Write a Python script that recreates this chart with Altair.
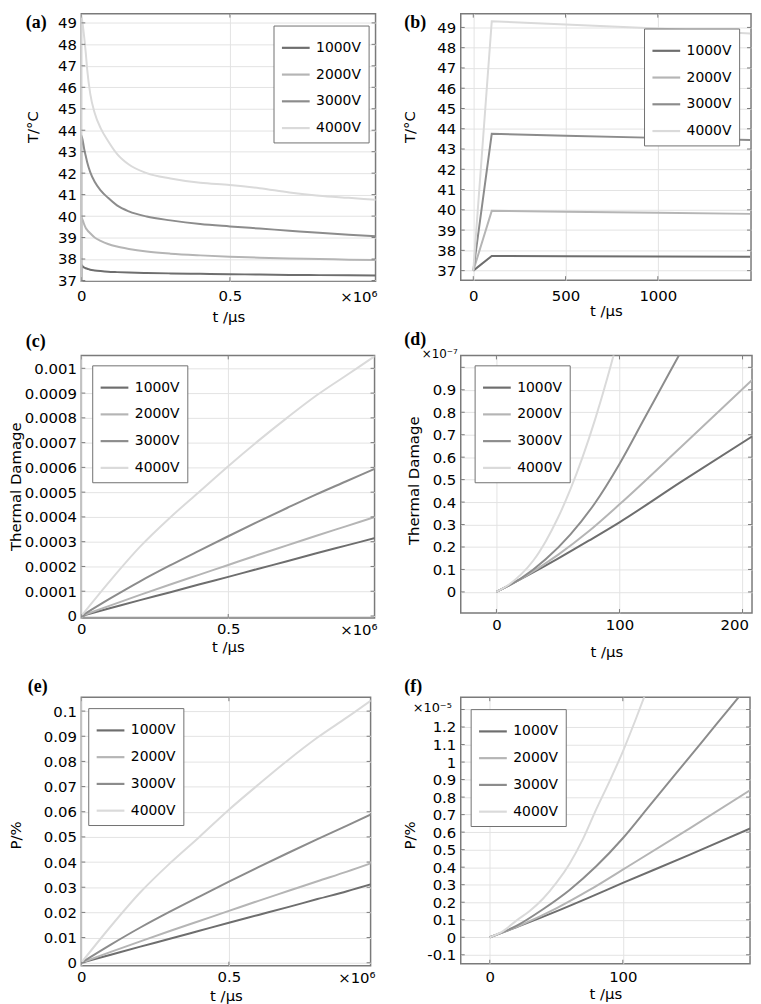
import altair as alt
import pandas as pd

series = ["1000V", "2000V", "3000V", "4000V"]
grays = ["#6e6e6e", "#b5b5b5", "#8c8c8c", "#dadada"]
FRAME = "#7a7a7a"

# ---------------- (a) T vs t (x 10^6 us) ----------------
a_t = [0, 0.0001, 0.005, 0.01, 0.015, 0.02, 0.03, 0.045, 0.065, 0.09, 0.12, 0.16, 0.22, 0.3, 0.4, 0.5, 0.6, 0.7, 0.8, 0.9, 1.0]
a_1000 = [37, 37.72, 37.65, 37.6, 37.57, 37.55, 37.5, 37.47, 37.44, 37.41, 37.39, 37.37, 37.35, 37.33, 37.31, 37.29, 37.28, 37.26, 37.25, 37.24, 37.23]
a_2000 = [37, 39.95, 39.8, 39.6, 39.45, 39.35, 39.2, 39.0, 38.85, 38.7, 38.58, 38.47, 38.35, 38.25, 38.17, 38.11, 38.06, 38.02, 38.0, 37.97, 37.95]
a_3000 = [37, 43.75, 43.5, 43.1, 42.8, 42.5, 42.05, 41.6, 41.2, 40.85, 40.5, 40.22, 39.98, 39.8, 39.63, 39.52, 39.42, 39.32, 39.22, 39.13, 39.05]
a_4000 = [37, 49.3, 48.9, 48.3, 47.6, 46.8, 45.7, 44.8, 44.1, 43.5, 42.9, 42.4, 42.0, 41.75, 41.55, 41.45, 41.3, 41.1, 40.95, 40.85, 40.75]

# ---------------- (b) T vs t (us) ----------------
b_t = [0, 100, 500, 1000, 1500]
b_1000 = [37, 37.72, 37.71, 37.7, 37.68]
b_2000 = [37, 39.95, 39.9, 39.85, 39.8]
b_3000 = [37, 43.75, 43.65, 43.55, 43.45]
b_4000 = [37, 49.3, 49.15, 48.95, 48.7]

# ---------------- (c) Thermal damage vs t (x 10^6 us) ----------------
c_t = [0, 0.1, 0.2, 0.3, 0.4, 0.5, 0.6, 0.7, 0.8, 0.9, 1.0]
c_1000 = [0, 0.000032, 0.000064, 0.000095, 0.000127, 0.000158, 0.00019, 0.000221, 0.000253, 0.000284, 0.000315]
c_2000 = [0, 0.000043, 0.000085, 0.000126, 0.000166, 0.000206, 0.000246, 0.000285, 0.000324, 0.000362, 0.0004]
c_3000 = [0, 0.000072, 0.00014, 0.000203, 0.000263, 0.000322, 0.00038, 0.000436, 0.000491, 0.000543, 0.000595]
c_4000 = [0, 0.000145, 0.00028, 0.000395, 0.0005, 0.000605, 0.000705, 0.0008, 0.00089, 0.00097, 0.00105]

# ---------------- (d) Thermal damage (x 10^-7) vs t (us) ----------------
d_t_1000 = [0, 25, 50, 75, 100, 150, 210]
d_1000 = [0, 0.072, 0.148, 0.228, 0.31, 0.49, 0.70]
d_t_2000 = [0, 25, 50, 75, 100, 150, 210]
d_2000 = [0, 0.075, 0.165, 0.27, 0.39, 0.645, 0.955]
d_t_3000 = [0, 20, 40, 60, 80, 100, 120, 140, 160]
d_3000 = [0, 0.06, 0.145, 0.255, 0.395, 0.57, 0.77, 0.97, 1.17]
d_t_4000 = [0, 10, 20, 30, 40, 50, 60, 70, 80, 90, 95, 100, 110]
d_4000 = [0, 0.032, 0.078, 0.14, 0.225, 0.33, 0.455, 0.6, 0.765, 0.95, 1.05, 1.15, 1.37]

# ---------------- (e) P/% vs t (x 10^6 us) ----------------
e_t = [0, 0.1, 0.2, 0.3, 0.4, 0.5, 0.6, 0.7, 0.8, 0.9, 1.0]
e_1000 = [0, 0.0032, 0.0064, 0.0095, 0.0127, 0.0159, 0.019, 0.0221, 0.0253, 0.0284, 0.0318]
e_2000 = [0, 0.0043, 0.0085, 0.0126, 0.0166, 0.0206, 0.0246, 0.0285, 0.0324, 0.0362, 0.0403]
e_3000 = [0, 0.0072, 0.014, 0.0203, 0.0263, 0.0322, 0.038, 0.0436, 0.0491, 0.0545, 0.06]
e_4000 = [0, 0.0145, 0.028, 0.0395, 0.05, 0.0608, 0.0708, 0.0805, 0.0895, 0.0975, 0.1058]

# ---------------- (f) P/% (x 10^-5) vs t (us) ----------------
f_t_1000 = [0, 25, 50, 75, 100, 150, 200]
f_1000 = [0, 0.072, 0.148, 0.228, 0.31, 0.47, 0.635]
f_t_2000 = [0, 25, 50, 75, 100, 150, 200]
f_2000 = [0, 0.075, 0.165, 0.27, 0.386, 0.62, 0.86]
f_t_3000 = [0, 20, 40, 60, 80, 100, 120, 140, 160, 180, 200]
f_3000 = [0, 0.065, 0.16, 0.27, 0.405, 0.565, 0.75, 0.935, 1.12, 1.305, 1.49]
f_t_4000 = [0, 10, 20, 30, 40, 50, 60, 70, 80, 90, 100, 110, 120]
f_4000 = [0, 0.035, 0.095, 0.15, 0.22, 0.31, 0.42, 0.56, 0.73, 0.89, 1.06, 1.25, 1.45]

# tick values
a_yticks = [37, 38, 39, 40, 41, 42, 43, 44, 45, 46, 47, 48, 49]
c_yticks = [0, 0.0001, 0.0002, 0.0003, 0.0004, 0.0005, 0.0006, 0.0007, 0.0008, 0.0009, 0.001]
d_yticks = [0, 0.1, 0.2, 0.3, 0.4, 0.5, 0.6, 0.7, 0.8, 0.9, 1.0]
e_yticks = [0, 0.01, 0.02, 0.03, 0.04, 0.05, 0.06, 0.07, 0.08, 0.09, 0.1]
f_yticks = [-0.1, 0, 0.1, 0.2, 0.3, 0.4, 0.5, 0.6, 0.7, 0.8, 0.9, 1.0, 1.1, 1.2, 1.3]
mega_xticks = [0, 0.5]
b_xticks = [0, 500, 1000]
d_xticks = [0, 100, 200]
f_xticks = [0, 100]

PLAIN = "'' + datum.value"


def long_df(pairs):
    rows = []
    for name, (ts, vs) in zip(series, pairs):
        for t, v in zip(ts, vs):
            rows.append({"t": t, "value": v, "series": name})
    return pd.DataFrame(rows)


def panel(df, W, H, xdom, ydom, xvals, yvals, ytitle, title_x, title_y,
          xlab_pad, xtitle_y, legend_xy, letter, letter_xy,
          ylab_expr=PLAIN, expo=None, anchor=False, xflush=None, interp="monotone"):
    xs = alt.Scale(domain=xdom, nice=False, zero=False)
    ys = alt.Scale(domain=ydom, nice=False, zero=False)
    xaxis_kw = dict(values=xvals, labelExpr=PLAIN, title="t /\u00b5s", grid=True,
                    labelPadding=xlab_pad, titleY=xtitle_y, titleBaseline="alphabetic",
                    labelFlush=False, labelOverlap=False)
    if xflush is not None:
        xaxis_kw.update(labelFlush=xflush, labelFlushOffset=6)
    yaxis_kw = dict(values=yvals, labelExpr=ylab_expr, title=ytitle, grid=True,
                    titleX=title_x, titleY=title_y, titleAngle=270,
                    titleBaseline="bottom", titleAlign="center", labelPadding=5,
                    labelOverlap=False)
    xaxis = alt.Axis(**xaxis_kw)
    yaxis = alt.Axis(**yaxis_kw)
    lines = alt.Chart(df).mark_line(clip=True, strokeWidth=2, interpolate=interp).encode(
        x=alt.X("t:Q", scale=xs, axis=xaxis),
        y=alt.Y("value:Q", scale=ys, axis=yaxis),
        color=alt.Color("series:N", scale=alt.Scale(domain=series, range=grays),
                        legend=alt.Legend(orient="none", legendX=legend_xy[0], legendY=legend_xy[1],
                                          title=None, direction="vertical", strokeColor="#707070",
                                          fillColor="white", padding=7, symbolType="stroke",
                                          symbolSize=784, symbolStrokeWidth=2.2, labelFontSize=14,
                                          labelFont="DejaVu Sans", labelColor="black",
                                          rowPadding=4, labelOffset=5, cornerRadius=0)),
    )
    xt = pd.DataFrame({"t": xvals})
    yt = pd.DataFrame({"value": yvals})
    rule = dict(color=FRAME, strokeWidth=1, clip=True)
    tk_top = alt.Chart(xt).mark_rule(**rule).encode(
        x=alt.X("t:Q", scale=xs, axis=xaxis), y=alt.value(0), y2=alt.value(4))
    tk_bot = alt.Chart(xt).mark_rule(**rule).encode(
        x=alt.X("t:Q", scale=xs, axis=xaxis), y=alt.value(H - 4), y2=alt.value(H))
    tk_left = alt.Chart(yt).mark_rule(**rule).encode(
        y=alt.Y("value:Q", scale=ys, axis=yaxis), x=alt.value(0), x2=alt.value(4))
    tk_right = alt.Chart(yt).mark_rule(**rule).encode(
        y=alt.Y("value:Q", scale=ys, axis=yaxis), x=alt.value(W - 4), x2=alt.value(W))
    lab = alt.Chart(pd.DataFrame({"s": [letter]})).mark_text(
        font="Liberation Serif", fontWeight="bold", fontSize=18, align="left",
        baseline="top", color="black").encode(
        text="s:N", x=alt.value(letter_xy[0]), y=alt.value(letter_xy[1]))
    layers = [lines, tk_top, tk_bot, tk_left, tk_right, lab]
    if expo is not None:
        txt, ex, ey, size = expo
        layers.append(alt.Chart(pd.DataFrame({"s": [txt]})).mark_text(
            font="DejaVu Sans", fontSize=size, align="right", baseline="top",
            color="black").encode(text="s:N", x=alt.value(ex), y=alt.value(ey)))
    if anchor:
        layers.append(alt.Chart(pd.DataFrame({"s": [""]})).mark_rule(
            opacity=0, color="white").encode(
            x=alt.value(-73), x2=alt.value(-72), y=alt.value(0), y2=alt.value(1)))
    return alt.layer(*layers).properties(width=W, height=H)


pa = panel(long_df([(a_t, a_1000), (a_t, a_2000), (a_t, a_3000), (a_t, a_4000)]),
           297, 270, [0, 0.99], [36.97, 49.43], mega_xticks, a_yticks, "T/\u00b0C",
           -41, 114, 8, 41, (194, 12), "(a)", (-56, 0),
           expo=("\u00d710\u2076", 299, 279, 15), anchor=True)
pb = panel(long_df([(b_t, b_1000), (b_t, b_2000), (b_t, b_3000), (b_t, b_4000)]),
           293, 269, [-68, 1505], [36.53, 49.68], b_xticks, a_yticks, "T/\u00b0C",
           -44, 114, 9, 36, (185, 15), "(b)", (-57, 0), interp="linear")
pc = panel(long_df([(c_t, c_1000), (c_t, c_2000), (c_t, c_3000), (c_t, c_4000)]),
           296, 265, [0, 0.998], [-0.000008, 0.001052], mega_xticks, c_yticks, "Thermal Damage",
           -58, 132, 4, 34, (11, 10), "(c)", (-56, -23),
           expo=("\u00d710\u2076", 299, 270, 15))
pd_ = panel(long_df([(d_t_1000, d_1000), (d_t_2000, d_2000), (d_t_3000, d_3000), (d_t_4000, d_4000)]),
            294, 260, [-29, 207.7], [-0.094, 1.053], d_xticks, d_yticks, "Thermal Damage",
            -40, 126, 5, 44, (14, 10), "(d)", (-57, -25),
            ylab_expr="datum.value > 0.95 ? '' : '' + datum.value",
            expo=("\u00d710\u207b\u2077", -3, -6, 12), xflush=12)
pe = panel(long_df([(e_t, e_1000), (e_t, e_2000), (e_t, e_3000), (e_t, e_4000)]),
           292, 271, [0, 0.98], [-0.00118, 0.10551], mega_xticks, e_yticks, "P/%",
           -58, 139, 4, 35, (7, 11), "(e)", (-54, -19),
           expo=("\u00d710\u2076", 297, 276, 15))
pf = panel(long_df([(f_t_1000, f_1000), (f_t_2000, f_2000), (f_t_3000, f_3000), (f_t_4000, f_4000)]),
           292, 269, [-21.8, 195.6], [-0.151, 1.37], f_xticks, f_yticks, "P/%",
           -44, 139, 6, 35, (10, 12), "(f)", (-57, -19),
           ylab_expr="datum.value > 1.25 ? '' : '' + datum.value",
           expo=("\u00d710\u207b\u2075", -9, 5, 13))

chart = alt.concat(pa, pb, pc, pd_, pe, pf, columns=2,
                   spacing={"row": 74, "column": 86}, bounds="flush", align="all",
                   padding=0).resolve_scale(color="independent").resolve_legend(
    color="independent").configure_view(
    stroke=FRAME, strokeWidth=1.5).configure_axis(
    labelFont="DejaVu Sans", labelFontSize=15, labelColor="black", labelOverlap=False,
    titleFont="DejaVu Sans", titleFontSize=15, titleFontWeight="normal", titleColor="black",
    domain=False, ticks=False, tickSize=0, gridColor="#e3e3e3", gridWidth=1)

chart.save("out.html", embed_options={"renderer": "svg", "actions": False})
